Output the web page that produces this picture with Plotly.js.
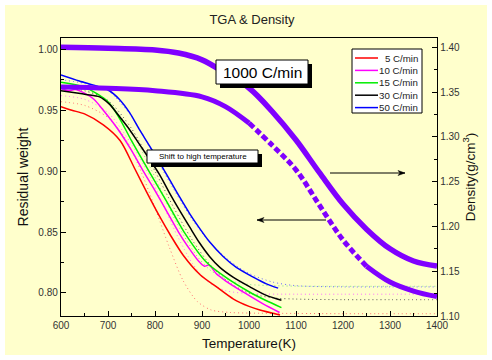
<!DOCTYPE html>
<html><head><meta charset="utf-8">
<script src="https://cdn.plot.ly/plotly-3.0.1.min.js"></script>
<style>
html,body{margin:0;padding:0;background:#fff;}
#chart{position:absolute;left:5px;top:5px;width:482px;height:350px;}
</style></head><body><div id="chart"></div>
<script>
// ---- TGA solid curves (temperature K, residual weight) ----
const tRed = [600,623,650,690,726,757,782,811,832,860,896,931,967,1000,1023,1066];
const wRed = [0.953,0.950,0.947,0.938,0.925,0.902,0.883,0.862,0.848,0.831,0.815,0.805,0.795,0.789,0.786,0.782];
const tMag = [600,615,630,650,670,690,720,750,775,800,825,850,870,893,905,915,930,950,991,1030,1065];
const wMag = [0.968,0.966,0.967,0.964,0.959,0.950,0.935,0.917,0.900,0.884,0.867,0.850,0.838,0.826,0.822,0.823,0.816,0.810,0.800,0.791,0.784];
const tGrn = [600,650,700,725,750,787,825,862,910,950,1000,1035,1069];
const wGrn = [0.973,0.969,0.957,0.943,0.925,0.900,0.875,0.850,0.825,0.813,0.801,0.794,0.788];
const tBlk = [600,653,682,703,724,746,767,788,810,831,852,874,895,916,938,966,1002,1037,1069];
const wBlk = [0.966,0.963,0.961,0.955,0.945,0.934,0.922,0.910,0.897,0.882,0.868,0.854,0.841,0.830,0.821,0.813,0.805,0.798,0.794];
const tBlu = [600,639,675,703,724,746,767,788,810,831,852,874,895,916,945,973,1009,1037,1062];
const wBlu = [0.979,0.974,0.970,0.966,0.959,0.948,0.934,0.921,0.907,0.893,0.879,0.865,0.853,0.842,0.830,0.821,0.813,0.8075,0.804];

// ---- fitted (dotted) curves ----
const tRedFit = [600,650,700,740,770,800,830,860,890,920,960,1000,1100,1200,1300,1400];
const wRedFit = [0.957,0.954,0.944,0.925,0.900,0.870,0.838,0.810,0.793,0.786,0.784,0.7835,0.7832,0.7830,0.7830,0.7830];
const tMagFit = [600,650,700,750,790,820,850,880,910,950,1000,1100,1200,1300,1400];
const wMagFit = [0.962,0.959,0.948,0.922,0.895,0.870,0.845,0.824,0.810,0.802,0.7995,0.799,0.799,0.799,0.799];
const tGrnFit = [600,650,700,750,800,830,860,890,920,960,1000,1050,1100,1200,1300,1400];
const wGrnFit = [0.970,0.967,0.957,0.932,0.895,0.870,0.848,0.830,0.818,0.810,0.807,0.806,0.8056,0.8055,0.8055,0.8055];
const tBlkFit = [600,650,700,750,800,840,880,920,960,1000,1050,1100,1200,1300,1400];
const wBlkFit = [0.969,0.966,0.958,0.935,0.900,0.870,0.843,0.822,0.808,0.800,0.796,0.795,0.7945,0.7945,0.7945];
const tBluFit = [600,650,700,750,800,840,880,920,960,1000,1050,1100,1200,1300,1400];
const wBluFit = [0.975,0.972,0.966,0.945,0.912,0.885,0.860,0.840,0.826,0.816,0.809,0.806,0.805,0.805,0.805];

// ---- 1000 C/min: weight (left axis) and density (right axis) ----
const tFast = [600,700,800,900,950,1000,1050,1100,1150,1200,1250,1300,1350,1400];
const wFast = [0.969,0.968,0.966,0.961,0.953,0.9395,0.921,0.901,0.872,0.8435,0.822,0.809,0.8016,0.797];
const tDen = [600,700,800,850,900,950,1000,1050,1100,1150,1200,1250,1300,1350,1400];
const dDen = [1.400,1.399,1.397,1.3936,1.386,1.371,1.3546,1.328,1.2965,1.260,1.225,1.197,1.175,1.1614,1.1558];

const legendNames = ['5 C/min','10 C/min','15 C/min','30 C/min','50 C/min'];
const titleText = 'TGA & Density';
const boxFast = '1000 C/min';
const boxShift = 'Shift to high temperature';

// ---- styling ----
const FONT = 'Arial, "Liberation Sans", sans-serif';
const colors = ['#ff0000','#ff00ff','#00ee00','#000000','#0000ff'];
const fitColors = ['#ff7070','#ff70ff','#80e080','#555555','#6a6aff'];
const purple = '#8000ff';

const solidT = [tRed,tMag,tGrn,tBlk,tBlu], solidW = [wRed,wMag,wGrn,wBlk,wBlu];
const fitT = [tRedFit,tMagFit,tGrnFit,tBlkFit,tBluFit], fitW = [wRedFit,wMagFit,wGrnFit,wBlkFit,wBluFit];

const traces = [];
fitT.forEach((t,i)=>traces.push({x:t,y:fitW[i],type:'scatter',mode:'lines',name:legendNames[i]+' fit',
  line:{color:fitColors[i],width:1,dash:'1px,3px',shape:'spline',smoothing:0.8},showlegend:false,hoverinfo:'skip'}));
solidT.forEach((t,i)=>traces.push({x:t,y:solidW[i],type:'scatter',mode:'lines',name:legendNames[i],
  line:{color:colors[i],width:1.5,shape:'spline',smoothing:0.8},showlegend:false,hoverinfo:'skip'}));
// 1000 C/min weight: solid - dashed - solid
const iA = tFast.indexOf(1000), iB = tFast.indexOf(1250);
traces.push({x:tFast.slice(0,iA+1),y:wFast.slice(0,iA+1),type:'scatter',mode:'lines',name:'1000 C/min',line:{color:purple,width:5,shape:'spline'},showlegend:false,hoverinfo:'skip'});
traces.push({x:tFast.slice(iA,iB+1),y:wFast.slice(iA,iB+1),type:'scatter',mode:'lines',name:'1000 C/min',line:{color:purple,width:5,dash:'6px,3px',shape:'spline'},showlegend:false,hoverinfo:'skip'});
traces.push({x:tFast.slice(iB),y:wFast.slice(iB),type:'scatter',mode:'lines',name:'1000 C/min',line:{color:purple,width:5,shape:'spline'},showlegend:false,hoverinfo:'skip'});
traces.push({x:tDen,y:dDen,yaxis:'y2',type:'scatter',mode:'lines',name:'Density',line:{color:purple,width:5.5,shape:'spline'},showlegend:false,hoverinfo:'skip'});

// page pixel -> paper coords
const X = px => (px-61)/376, Y = py => (316-py)/278;

const shapes = [], annotations = [];
// 1000 C/min box with shadow
shapes.push({type:'rect',xref:'paper',yref:'paper',x0:X(220),x1:X(312),y0:Y(64),y1:Y(88),fillcolor:'#000',line:{width:0},layer:'above'});
shapes.push({type:'rect',xref:'paper',yref:'paper',x0:X(216),x1:X(308),y0:Y(60),y1:Y(84),fillcolor:'#fff',line:{color:'#000',width:1},layer:'above'});
annotations.push({xref:'paper',yref:'paper',x:X(262),y:Y(72),xanchor:'center',yanchor:'middle',text:boxFast,showarrow:false,font:{family:FONT,size:15.5,color:'#000'}});
// shift box with shadow
shapes.push({type:'rect',xref:'paper',yref:'paper',x0:X(151),x1:X(262),y0:Y(154),y1:Y(167),fillcolor:'#000',line:{width:0},layer:'above'});
shapes.push({type:'rect',xref:'paper',yref:'paper',x0:X(147),x1:X(258),y0:Y(150),y1:Y(163),fillcolor:'#fff',line:{color:'#000',width:1},layer:'above'});
annotations.push({xref:'paper',yref:'paper',x:X(202.5),y:Y(156.5),xanchor:'center',yanchor:'middle',text:boxShift,showarrow:false,font:{family:FONT,size:8,color:'#000'}});
// arrows (line + head)
function arrow(x0,x1,y){
  shapes.push({type:'line',xref:'paper',yref:'paper',x0:X(x0),x1:X(x1),y0:Y(y),y1:Y(y),line:{color:'#000',width:1},layer:'above'});
  const d = x1 > x0 ? -7 : 7;
  shapes.push({type:'path',xref:'paper',yref:'paper',layer:'above',fillcolor:'#000',line:{color:'#000',width:0.5},
    path:`M ${X(x1)} ${Y(y)} L ${X(x1+d)} ${Y(y-2.5)} L ${X(x1+d*0.7)} ${Y(y)} L ${X(x1+d)} ${Y(y+2.5)} Z`});
}
arrow(330,405,173);
arrow(326,257,220);
// legend
shapes.push({type:'rect',xref:'paper',yref:'paper',x0:X(352),x1:X(422),y0:Y(49),y1:Y(113),fillcolor:'#fff',line:{color:'#000',width:1},layer:'above'});
legendNames.forEach((n,i)=>{
  const yy = 58 + i*12.4;
  shapes.push({type:'line',xref:'paper',yref:'paper',x0:X(355),x1:X(378),y0:Y(yy),y1:Y(yy),line:{color:colors[i],width:1.5},layer:'above'});
  annotations.push({xref:'paper',yref:'paper',x:X(420),y:Y(yy),xanchor:'right',yanchor:'middle',text:n,showarrow:false,font:{family:FONT,size:9.7,color:'#222'}});
});

const axisCommon = {showgrid:false,zeroline:false,showline:true,linecolor:'#000',linewidth:1.2,
  ticks:'inside',ticklen:5,tickwidth:1,tickcolor:'#000',tickfont:{family:FONT,size:10,color:'#333'}};

const layout = {
  width:482,height:350,
  margin:{l:56,r:50,t:33,b:39},
  paper_bgcolor:'#ffffcc',plot_bgcolor:'#ffffcc',
  font:{family:FONT},
  title:{text:titleText,font:{family:FONT,size:13,color:'#222'},xref:'paper',x:X(252),xanchor:'center',yref:'container',y:1-14/350,yanchor:'middle'},
  xaxis:Object.assign({},axisCommon,{range:[600,1400],dtick:100,tick0:600,mirror:true,
    minor:{ticks:'inside',ticklen:3,dtick:50,tickcolor:'#000'},
    title:{text:'Temperature(K)',font:{family:FONT,size:13.5,color:'#111'},standoff:8}}),
  yaxis:Object.assign({},axisCommon,{range:[0.7811,1.0093],dtick:0.05,tick0:0,tickformat:'.2f',
    minor:{ticks:'inside',ticklen:3,dtick:0.025,tickcolor:'#000'},
    title:{text:'Residual weight',font:{family:FONT,size:14,color:'#111'},standoff:6}}),
  yaxis2:Object.assign({},axisCommon,{range:[1.10,1.4104],dtick:0.05,tick0:0,tickformat:'.2f',overlaying:'y',side:'right',
    minor:{ticks:'inside',ticklen:3,dtick:0.025,tickcolor:'#000'},
    title:{text:'Density(g/cm<sup>3</sup>)',font:{family:FONT,size:13.5,color:'#111'},standoff:6}}),
  shapes:shapes,annotations:annotations,showlegend:false
};
Plotly.newPlot('chart',traces,layout,{displayModeBar:false,staticPlot:true});
</script></body></html>
